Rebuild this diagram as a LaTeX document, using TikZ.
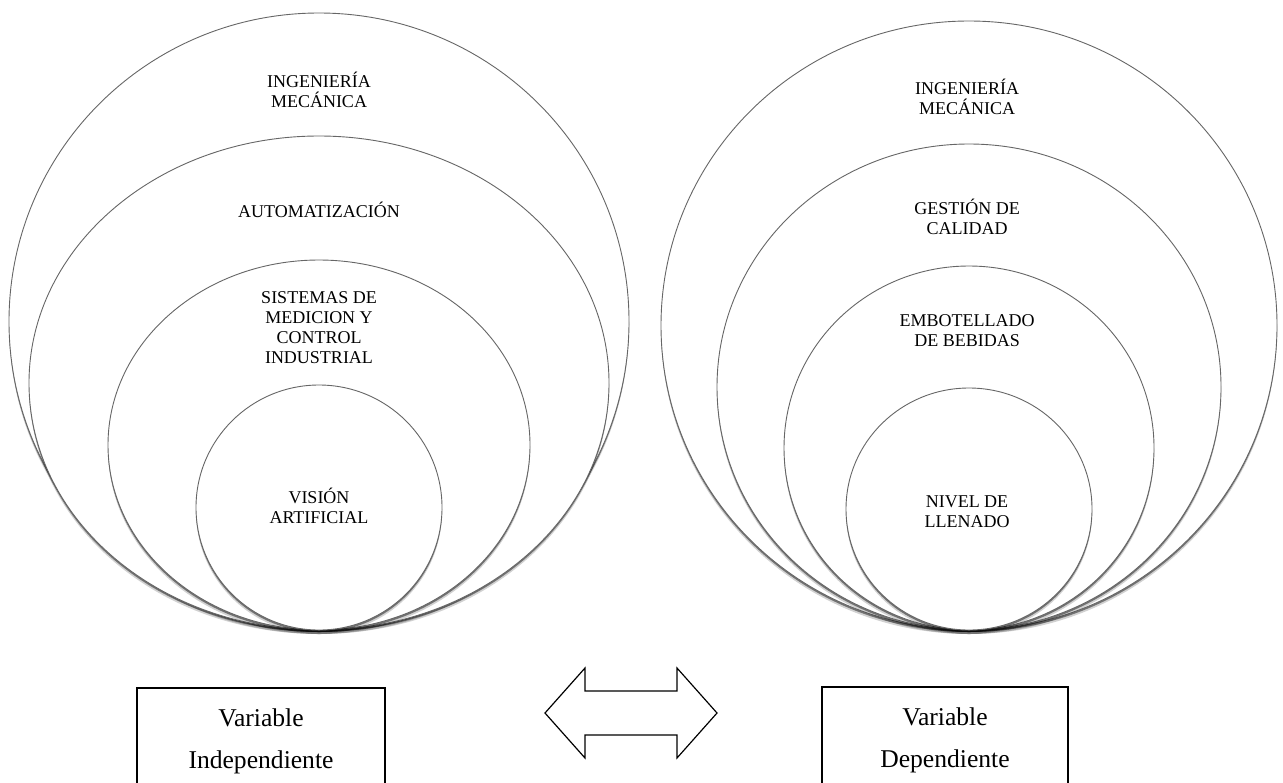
\documentclass[tikz,border=0pt]{standalone}
\usepackage{fontspec}
\setmainfont{Liberation Serif}
\usepackage{tikz}
\usetikzlibrary{shapes.geometric,shadows}

\tikzset{
  ring/.style={ellipse, draw=black!60, line width=0.45pt, fill=white, inner sep=0pt,
    drop shadow={shadow xshift=0pt, shadow yshift=-2pt, fill=black, opacity=0.18},
    drop shadow={shadow xshift=0pt, shadow yshift=-1pt, fill=black, opacity=0.45}},
  ringtext/.style={align=center, inner sep=1pt, font=\fontsize{9}{10}\selectfont},
  varbox/.style={draw, line width=0.6pt, align=center, inner sep=0pt,
    font=\fontsize{12.8}{21}\selectfont}
}

\begin{document}
\begin{tikzpicture}[x=0.5pt, y=-0.5pt]
    \useasboundingbox (0,0) rectangle (1283,782);

    \node[ring, minimum width=310pt, minimum height=308.5pt] (ingL) at (319,321.5) {};
    \node[ring, minimum width=290pt, minimum height=247pt] (autL) at (319,383) {};
    \node[ring, minimum width=211pt, minimum height=185pt] (medL) at (319,445) {};
    \node[ring, minimum width=123pt, minimum height=122.5pt] (visL) at (319,507.5) {};

    \node[ringtext] (tIngL) at (319,90) {INGENIERÍA\\MECÁNICA};
    \node[ringtext] (tAutL) at (319,210) {AUTOMATIZACIÓN};
    \node[ringtext] (tMedL) at (319,328) {SISTEMAS DE\\MEDICION Y\\CONTROL\\INDUSTRIAL};
    \node[ringtext] (tVisL) at (319,506) {VISIÓN\\ARTIFICIAL};

    \node[ring, minimum width=308pt, minimum height=304.5pt] (ingR) at (969,325.5) {};
    \node[ring, minimum width=252pt, minimum height=243pt] (calR) at (969,387) {};
    \node[ring, minimum width=185pt, minimum height=182pt] (embR) at (969,448) {};
    \node[ring, minimum width=123pt, minimum height=121pt] (nivR) at (969,509) {};

    \node[ringtext] (tIngR) at (967,97) {INGENIERÍA\\MECÁNICA};
    \node[ringtext] (tCalR) at (967,217) {GESTIÓN DE\\CALIDAD};
    \node[ringtext] (tEmbR) at (967,331) {EMBOTELLADO\\DE BEBIDAS};
    \node[ringtext] (tNivR) at (967,512) {NIVEL DE\\LLENADO};

    \node[varbox, minimum width=124pt, minimum height=53pt] (boxInd) at (261,741) {Variable\\Independiente};
    \node[varbox, minimum width=123pt, minimum height=53pt] (boxDep) at (945,740) {Variable\\Dependiente};

    \coordinate (flecha) at (631,713);
    \draw[line width=0.6pt, line join=miter] ([shift={(-86,0)}]flecha) -- ++(40,-45) -- ++(0,23)
      -- ++(92,0) -- ++(0,-23) -- ++(40,45) -- ++(-40,45) -- ++(0,-23) -- ++(-92,0) -- ++(0,23) -- cycle;
\end{tikzpicture}
\end{document}
